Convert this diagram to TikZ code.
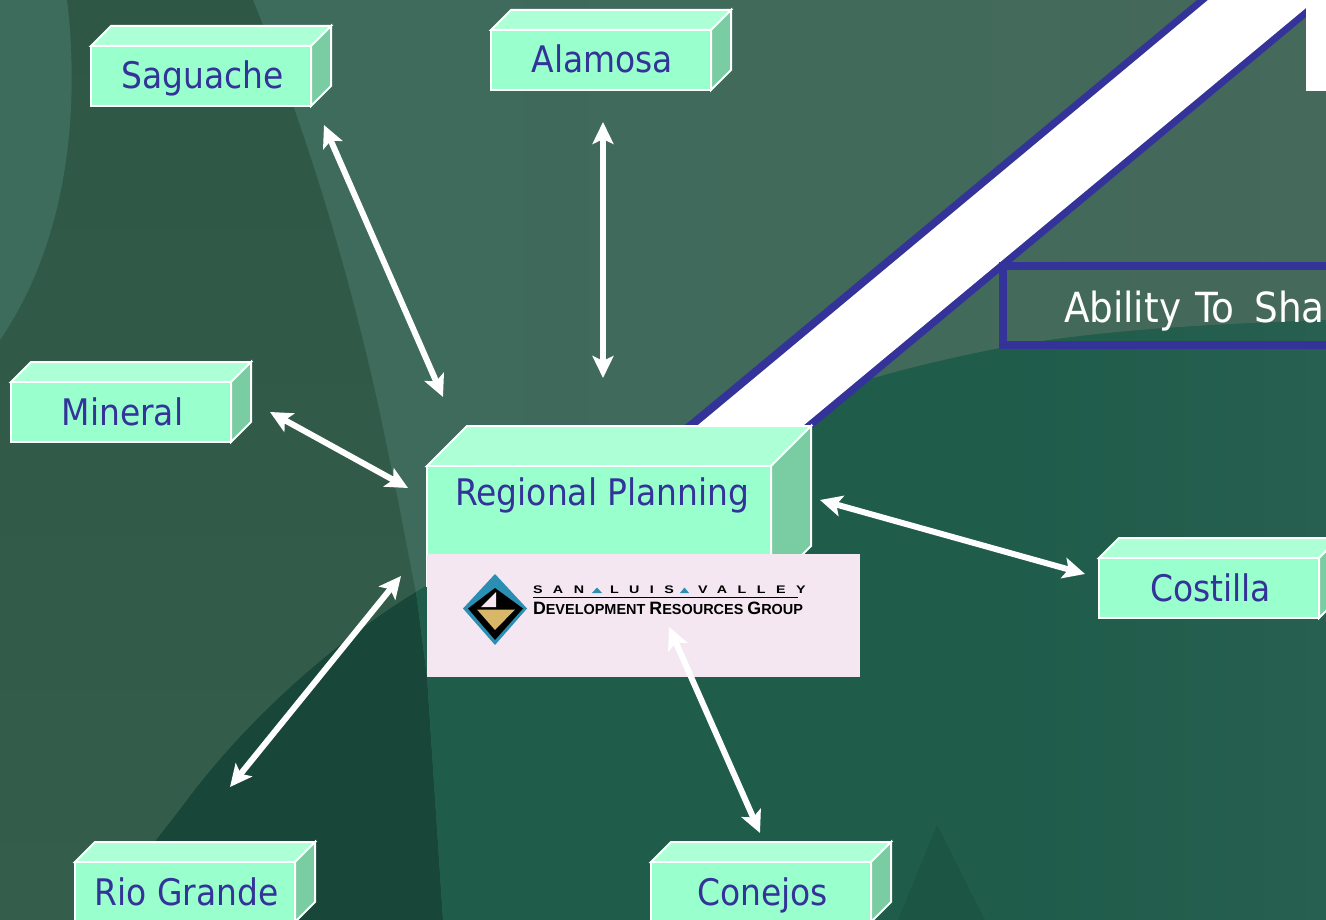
\documentclass[tikz,border=0pt]{standalone}
\usepackage{fontspec}
\usepackage{graphicx}
\setmainfont{DejaVu Sans Condensed}
\newfontfamily\logofont[LetterSpace=95,FakeStretch=1.3]{Liberation Sans Bold}
\newfontfamily\logotwo{Liberation Sans Bold}
\usetikzlibrary{arrows.meta}
\definecolor{bgdark}{HTML}{2E5745}
\definecolor{bgdarklow}{HTML}{355D4B}
\definecolor{bgteal}{HTML}{3D6B5C}
\definecolor{bgupper}{HTML}{45695A}
\definecolor{bgmid}{HTML}{1F5C4A}
\definecolor{bgmidr}{HTML}{275F50}
\definecolor{bgdeep}{HTML}{184639}
\definecolor{bgtri}{HTML}{1C5543}
\definecolor{boxfront}{HTML}{99FFCC}
\definecolor{boxtop}{HTML}{ADFFD6}
\definecolor{boxside}{HTML}{7ACCA3}
\definecolor{ink}{HTML}{333399}
\definecolor{logopink}{HTML}{F5E7F1}
\definecolor{logoteal}{HTML}{2A8FB3}
\definecolor{logotan}{HTML}{D9B768}
\tikzset{
  facet/.style={draw=white,line width=2pt,line join=miter},
  frontface/.style={facet,fill=boxfront,text=ink,inner sep=0pt,outer sep=0pt,anchor=north west,
    font=\fontsize{36.6}{36.6}\selectfont},
  link/.style={draw=white,line width=6pt,{Stealth[length=22pt,width=21pt,inset=5pt]}-{Stealth[length=22pt,width=21pt,inset=5pt]}},
  logoline/.style={inner sep=0pt,outer sep=0pt,anchor=base west,text=black},
}
% name, left, top, width, height, depth, text height, text depth, label
\newcommand{\cubebox}[9]{%
  \path[facet,fill=boxtop] (#2,#3) -- ++(#6,-#6) -- ++(#4,0) -- ++(-#6,#6) -- cycle;
  \path[facet,fill=boxside] (#2+#4,#3) -- ++(#6,-#6) -- ++(0,#5) -- ++(-#6,#6) -- cycle;
  \node[frontface,minimum width=#4pt,minimum height=#5pt,text height=#7pt,text depth=#8pt] (#1) at (#2,#3) {\hspace*{3pt}#9};
}
\begin{document}
\begin{tikzpicture}[x=1pt,y=-1pt]
\useasboundingbox (0,0) rectangle (1326,920);
\clip (0,0) rectangle (1326,920);
% background
\shade[top color=bgdark,bottom color=bgdarklow] (0,0) rectangle (450,920);
\fill[bgteal] (0,0) -- (67,0) .. controls (78,90) and (75,230) .. (0,340) -- cycle;
\shade[left color=bgteal,right color=bgupper] (253,0) .. controls (290,90) and (340,230) .. (380,413) -- (398,500) -- (416,593) -- (427,677) -- (443,920) -- (1326,920) -- (1326,0) -- cycle;
\fill[bgdeep] (416,592) .. controls (370,620) and (270,690) .. (187,800) .. controls (165,830) and (130,870) .. (100,920) -- (443,920) -- (427,677) -- cycle;
\begin{scope}
\clip (1326,320) .. controls (1200,325) and (1100,330) .. (1000,348) .. controls (930,362) and (865,378) .. (800,402) .. controls (660,455) and (520,530) .. (416,592) -- (427,677) -- (443,920) -- (1326,920) -- cycle;
\fill[bgmid] (400,300) rectangle (1326,920);
\shade[left color=bgmid,right color=bgmidr] (1000,300) rectangle (1326,920);
\fill[bgtri] (937,825) -- (985,920) -- (898,920) -- cycle;
\end{scope}
% diagonal band
\fill[ink] (679,430) -- (1197,0) -- (1306,0) -- (1306,17) -- (810,430) -- cycle;
\fill[white] (692,430) -- (1208,0) -- (1306,0) -- (1306,8) -- (798,430) -- cycle;
\fill[white] (1306,0) rectangle (1326,91);
% label box at right
\node[draw=ink,line width=8pt,outer sep=0pt,anchor=north west,minimum width=340pt,minimum height=79pt,inner sep=0pt] (abox) at (1003,266) {};
\node[text=white,anchor=base west,inner sep=0pt,outer sep=0pt,font=\fontsize{41.5}{41.5}\selectfont] (ability) at (1064,322) {Ability\hspace{3pt} To\hspace{8pt} Sha};
% boxes
\cubebox{saguache}{91}{46}{220}{60}{20}{26}{0}{Saguache}
\cubebox{alamosa}{491}{30}{220}{60}{20}{26}{0}{Alamosa}
\cubebox{mineral}{11}{382}{220}{60}{20}{26}{0}{Mineral}
\cubebox{riogrande}{75}{862}{220}{60}{20}{26}{0}{Rio Grande}
\cubebox{conejos}{651}{862}{220}{60}{20}{26}{0}{Conejos}
\cubebox{costilla}{1099}{558}{220}{60}{20}{26}{0}{Costilla}
\cubebox{regional}{427}{466}{344}{120}{40}{0}{42}{\hspace*{4pt}Regional Planning}
% logo
\node[fill=logopink,anchor=north west,outer sep=0pt,minimum width=433pt,minimum height=123pt,inner sep=0pt] (logo) at (427,554) {};
\fill[logoteal] (495,574) -- (527,608.5) -- (495,645) -- (463,608.5) -- cycle;
\fill[black] (495,588) -- (523,608.5) -- (495,640) -- (468,608.5) -- cycle;
\fill[logotan] (477,609.5) -- (515,609.5) -- (495,630) -- cycle;
\fill[logopink] (496,592) -- (496,607) -- (481,607) -- cycle;
\node[logoline,font=\logofont\fontsize{11}{11}\selectfont] (san) at (533,593.5) {SAN};
\node[logoline,font=\logofont\fontsize{11}{11}\selectfont] (luis) at (610,593.5) {LUIS};
\node[logoline,font=\logofont\fontsize{11}{11}\selectfont] (valley) at (698,593.5) {VALLEY};
\fill[logoteal] (592,593) -- (602,593) -- (597,587.5) -- cycle;
\fill[logoteal] (680,593) -- (689,593) -- (684.5,587.5) -- cycle;
\fill[black] (533,596.5) rectangle (798,598);
\node[logoline,font=\logotwo] (drg) at (533,614.5) {\resizebox{270pt}{12.5pt}{\fontsize{16}{16}\selectfont D\fontsize{13}{13}\selectfont EVELOPMENT \fontsize{16}{16}\selectfont R\fontsize{13}{13}\selectfont ESOURCES \fontsize{16}{16}\selectfont G\fontsize{13}{13}\selectfont ROUP}};
% connector ends
\coordinate (sagEnd) at (324,125);
\coordinate (sagHub) at (443,397);
\coordinate (alaEnd) at (603,122);
\coordinate (alaHub) at (603,378);
\coordinate (minEnd) at (270,412);
\coordinate (minHub) at (408,488);
\coordinate (rioHub) at (401,576);
\coordinate (rioEnd) at (230,787);
\coordinate (cosHub) at (820,500);
\coordinate (cosEnd) at (1085,574);
\coordinate (conHub) at (669,627);
\coordinate (conEnd) at (760,833);
\draw[link] (sagEnd) -- (sagHub);
\draw[link] (alaEnd) -- (alaHub);
\draw[link] (minEnd) -- (minHub);
\draw[link] (rioHub) -- (rioEnd);
\draw[link] (cosHub) -- (cosEnd);
\draw[link] (conHub) -- (conEnd);
\end{tikzpicture}
\end{document}
